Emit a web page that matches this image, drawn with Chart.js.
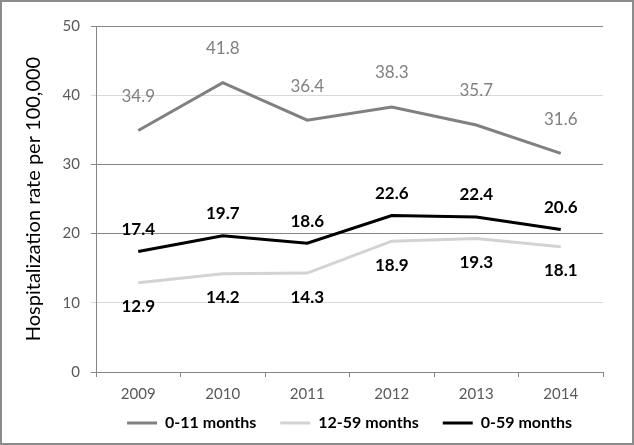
<!DOCTYPE html>
<html lang="en">
<head>
    <meta charset="UTF-8">
    <script src="https://cdn.jsdelivr.net/npm/chart.js"></script>
    <title>Hospitalization rate</title>
    <style>
        html, body { margin: 0; padding: 0; background: #fff; }
        .frame {
            width: 634px; height: 445px; box-sizing: border-box;
            border: 2px solid #8c8c8c; background: #fff;
        }
        .frame canvas { display: block; }
    </style>
</head>
<body>
    <div class="frame">
        <canvas id="rateChart" width="630" height="441"></canvas>
    </div>

    <script>
        // Chart data
        const years = ['2009', '2010', '2011', '2012', '2013', '2014'];
        const infants = [34.9, 41.8, 36.4, 38.3, 35.7, 31.6];      // 0-11 months
        const children = [12.9, 14.2, 14.3, 18.9, 19.3, 18.1];     // 12-59 months
        const underFive = [17.4, 19.7, 18.6, 22.6, 22.4, 20.6];    // 0-59 months
        const seriesNames = ['0-11 months', '12-59 months', '0-59 months'];

        const FONT = 'Lato, "Open Sans", sans-serif';

        // Draws the value next to every point
        const valueLabels = {
            id: 'valueLabels',
            afterDatasetsDraw(chart) {
                const ctx = chart.ctx;
                chart.data.datasets.forEach((ds, i) => {
                    const meta = chart.getDatasetMeta(i);
                    if (meta.hidden) return;
                    ctx.save();
                    ctx.font = ds.labelFont;
                    ctx.fillStyle = ds.labelColor;
                    ctx.textAlign = 'center';
                    ctx.textBaseline = 'middle';
                    meta.data.forEach((pt, j) => {
                        ctx.fillText(ds.data[j].toFixed(1), pt.x, pt.y + ds.labelShift);
                    });
                    ctx.restore();
                });
            }
        };

        // the x axis box is kept short so the legend sits close to it;
        // stretch its bottom afterwards so the year labels are not clipped
        const xLabelRoom = {
            id: 'xLabelRoom',
            afterLayout(chart) {
                chart.scales.x.bottom = chart.height;
            }
        };

        const ctx = document.getElementById('rateChart').getContext('2d');
        const chart = new Chart(ctx, {
            type: 'line',
            data: {
                labels: years,
                datasets: [
                    {
                        label: seriesNames[0],
                        data: infants,
                        borderColor: '#808080',
                        backgroundColor: '#808080',
                        borderWidth: 3,
                        pointRadius: 0,
                        tension: 0,
                        labelShift: -34,
                        labelColor: '#808080',
                        labelFont: '17px ' + FONT,
                    },
                    {
                        label: seriesNames[1],
                        data: children,
                        borderColor: '#d3d3d3',
                        backgroundColor: '#d3d3d3',
                        borderWidth: 3,
                        pointRadius: 0,
                        tension: 0,
                        labelShift: 24,
                        labelColor: '#000000',
                        labelFont: 'bold 17px ' + FONT,
                    },
                    {
                        label: seriesNames[2],
                        data: underFive,
                        borderColor: '#000000',
                        backgroundColor: '#000000',
                        borderWidth: 3,
                        pointRadius: 0,
                        tension: 0,
                        labelShift: -22,
                        labelColor: '#000000',
                        labelFont: 'bold 17px ' + FONT,
                    },
                ],
            },
            options: {
                responsive: false,
                animation: false,
                layout: { padding: { left: 0, right: 29, top: 24, bottom: 2 } },
                plugins: {
                    legend: {
                        position: 'bottom',
                        fullSize: false,
                        labels: {
                            usePointStyle: true,
                            pointStyle: 'line',
                            pointStyleWidth: 30,
                            padding: 24,
                            color: '#000',
                            font: { family: FONT, size: 16, weight: 'bold' },
                        },
                    },
                    tooltip: { enabled: false },
                },
                scales: {
                    x: {
                        offset: true,
                        grid: {
                            offset: true,
                            drawOnChartArea: false,
                            drawTicks: true,
                            tickLength: 5,
                            color: '#868686',
                        },
                        border: { color: '#868686', width: 1 },
                        ticks: { color: '#595959', padding: 8, font: { family: FONT, size: 15 } },
                        afterFit: (scale) => { scale.height = 19; },
                    },
                    y: {
                        min: 0,
                        max: 50,
                        ticks: {
                            stepSize: 10,
                            color: '#595959',
                            padding: 11,
                            font: { family: FONT, size: 15 },
                        },
                        grid: {
                            tickLength: 5,
                            color: (c) => (c.tick && (c.tick.value === 10 || c.tick.value === 40)) ? '#d9d9d9' : '#868686',
                        },
                        border: { color: '#868686', width: 1 },
                        title: {
                            display: true,
                            text: 'Hospitalization rate per 100,000',
                            color: '#000',
                            padding: { top: 20, bottom: 0 },
                            font: { family: FONT, size: 20 },
                        },
                        afterFit: (scale) => { scale.width = 94; },
                    },
                },
            },
            plugins: [valueLabels, xLabelRoom],
        });
    </script>
</body>
</html>
